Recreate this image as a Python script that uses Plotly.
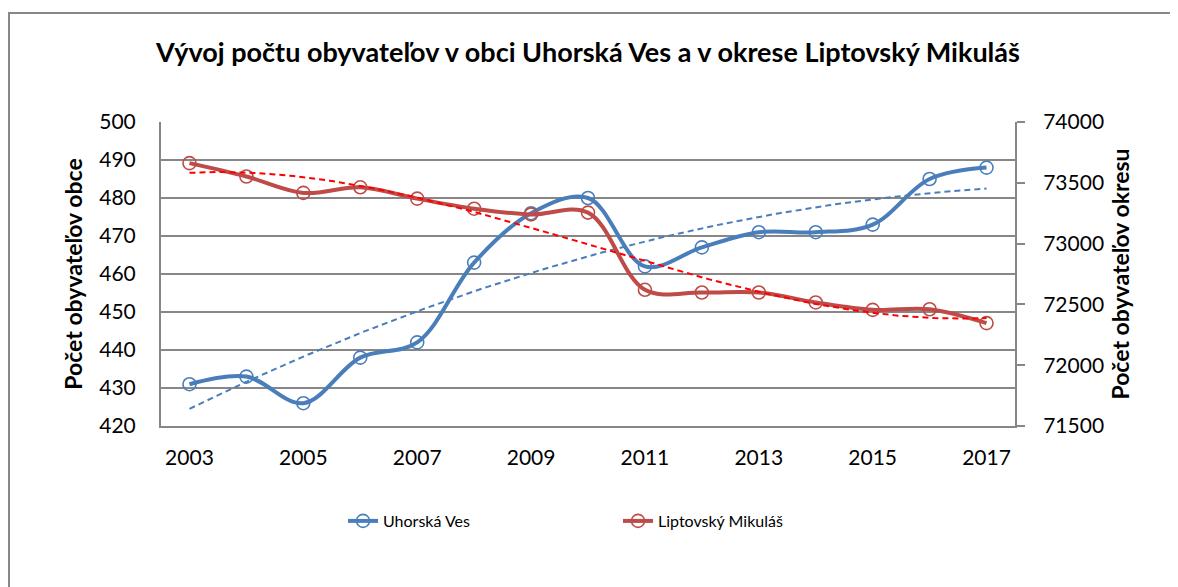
import numpy as np
import plotly.graph_objects as go

# ---- data ----
years = list(range(2003, 2018))
uhorska_ves = [431, 433, 426, 438, 442, 463, 476, 480, 462, 467, 471, 471, 473, 485, 488]
liptovsky_mikulas = [73662, 73552, 73417, 73463, 73370, 73287, 73240, 73255,
                     72620, 72598, 72598, 72516, 72455, 72460, 72346]
x_tick_labels = [2003, 2005, 2007, 2009, 2011, 2013, 2015, 2017]
left_ticks = [420, 430, 440, 450, 460, 470, 480, 490, 500]
right_ticks = [71500, 72000, 72500, 73000, 73500, 74000]

title_text = "Vývoj počtu obyvateľov v obci Uhorská Ves a v okrese Liptovský Mikuláš"
left_title = "Počet obyvateľov obce"
right_title = "Počet obyvateľov okresu"
name_uv = "Uhorská Ves"
name_lm = "Liptovský Mikuláš"

# ---- trendlines (fitted from the data, like Excel: x = 1..n) ----
idx = np.arange(1, len(years) + 1)
poly_uv = np.polyfit(idx, np.array(uhorska_ves, float), 2)
poly_lm = np.polyfit(idx, np.array(liptovsky_mikulas, float), 3)
t = np.linspace(1, len(years), 200)
t_years = years[0] - 1 + t
trend_uv = np.polyval(poly_uv, t)
trend_lm = np.polyval(poly_lm, t)

BLUE = "#4A7EBB"
RED = "#BE4B48"
GRID = "#878787"
FONT = "Lato"

fig = go.Figure()

fig.add_trace(go.Scatter(
    x=years, y=uhorska_ves, name=name_uv, mode="lines+markers",
    line=dict(color=BLUE, width=4, shape="spline", smoothing=1),
    marker=dict(symbol="circle-open", size=13, color=BLUE, line=dict(width=1.6, color=BLUE)),
    yaxis="y"))
fig.add_trace(go.Scatter(
    x=years, y=liptovsky_mikulas, name=name_lm, mode="lines+markers",
    line=dict(color=RED, width=4, shape="spline", smoothing=1),
    marker=dict(symbol="circle-open", size=13, color=RED, line=dict(width=1.6, color=RED)),
    yaxis="y2"))
fig.add_trace(go.Scatter(
    x=t_years, y=trend_uv, mode="lines", showlegend=False, hoverinfo="skip",
    line=dict(color=BLUE, width=2, dash="6px,4px"), yaxis="y"))
fig.add_trace(go.Scatter(
    x=t_years, y=trend_lm, mode="lines", showlegend=False, hoverinfo="skip",
    line=dict(color="#FF0000", width=2, dash="6px,4px"), yaxis="y2"))

# page offset (body margin) and plot area in screen pixels
OFF = 8
W, H = 1170, 579
SL, SR, ST, SB = 161, 1015, 122, 426


def px(sx):
    return (sx - SL) / (SR - SL)


def py(sy):
    return 1 - (sy - ST) / (SB - ST)


fig.update_layout(
    width=W, height=H,
    margin=dict(l=SL - OFF, r=W - (SR - OFF), t=ST - OFF, b=H - (SB - OFF), autoexpand=False),
    paper_bgcolor="white", plot_bgcolor="white",
    font=dict(family=FONT, color="#000000"),
    title=dict(text=title_text, x=0.5, xanchor="center", xref="paper",
               y=1 - (53 - OFF) / H, yanchor="middle",
               font=dict(family=FONT, size=27, color="#000000", weight="bold")),
    xaxis=dict(range=[2002.5, 2017.5], tickmode="array", tickvals=x_tick_labels,
               ticktext=[str(v) for v in x_tick_labels],
               showgrid=False, zeroline=False, showline=True, linecolor=GRID, linewidth=2,
               ticks="", ticklabelstandoff=12, tickfont=dict(size=21, family=FONT)),
    yaxis=dict(range=[420, 500], tickmode="array", tickvals=left_ticks,
               showgrid=True, gridcolor=GRID, gridwidth=2, zeroline=False,
               showline=True, linecolor=GRID, linewidth=2, ticks="",
               ticklabelstandoff=19, tickfont=dict(size=21, family=FONT),
               title=dict(text=left_title, standoff=10,
                          font=dict(size=23, family=FONT, weight="bold"))),
    yaxis2=dict(range=[71500, 74000], tickmode="array", tickvals=right_ticks,
                ticktext=[str(v) for v in right_ticks],
                overlaying="y", side="right", showgrid=False, zeroline=False,
                showline=True, linecolor=GRID, linewidth=2,
                ticks="outside", ticklen=8, tickwidth=2, tickcolor=GRID,
                ticklabelstandoff=14, tickfont=dict(size=21, family=FONT),
                title=dict(text=right_title, standoff=10,
                           font=dict(size=23, family=FONT, weight="bold"))),
    legend=dict(orientation="h", x=px(343), xanchor="left", y=py(521), yanchor="middle",
                font=dict(size=16, family=FONT), entrywidth=230, entrywidthmode="pixels",
                bgcolor="rgba(0,0,0,0)"),
    showlegend=True,
    shapes=[dict(type="rect", xref="paper", yref="paper",
                 x0=px(9), x1=px(1195), y0=py(13), y1=py(610),
                 line=dict(color=GRID, width=2), fillcolor="rgba(0,0,0,0)", layer="below")],
)

fig.write_html("out.html")
